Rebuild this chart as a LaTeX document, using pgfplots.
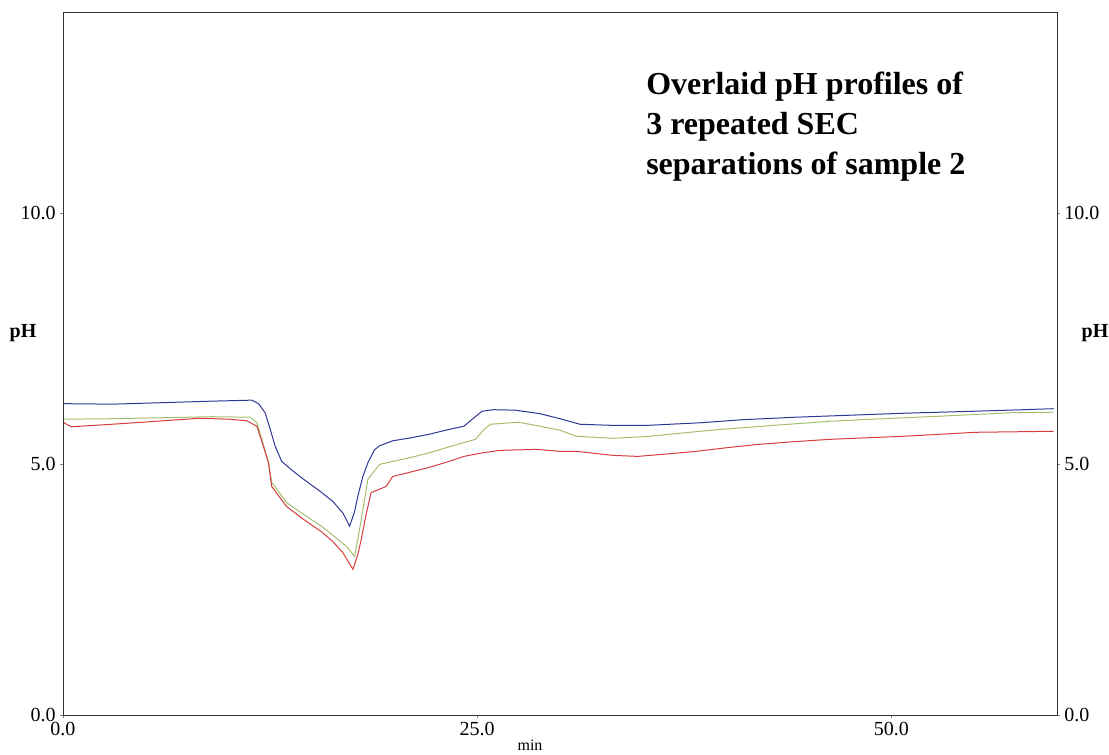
\documentclass[border=0pt]{standalone}
\usepackage{fontspec}
\setmainfont{Liberation Serif}
\usepackage{pgfplots}
\pgfplotsset{compat=1.18}
\definecolor{phblue}{RGB}{45,55,150}
\definecolor{phgreen}{RGB}{165,190,110}
\definecolor{phred}{RGB}{215,60,60}
\begin{document}
\begin{tikzpicture}[x=1pt,y=1pt]
\path[use as bounding box] (0,0) rectangle (831.75,566.25);
\pgfplotsset{
  phaxis/.style={
    at={(47.25pt,30pt)}, anchor=south west,
    scale only axis, width=745.5pt, height=527.25pt,
    xmin=0, xmax=60, ymin=0, ymax=14,
    xtick={0,25,50}, ytick={0,5,10},
    tick align=outside, major tick length=2pt,
    tick style={gray, thin},
    axis line style={black!80, line width=0.7pt},
    ticklabel style={font=\fontsize{15}{15}\selectfont},
    /pgf/number format/assume math mode=true,
    /pgf/number format/.cd, fixed, fixed zerofill, precision=1,
  }
}
\begin{axis}[phaxis, xtick pos=lower, ytick pos=left]
\addplot[phgreen, line width=0.75pt] coordinates {
(0,5.89) (3,5.90) (6,5.92) (9,5.94) (11.3,5.93) (11.7,5.82) (12.0,5.50) (12.4,5.03) (12.6,4.63) (13.5,4.23) (14.5,4.00) (15.6,3.76) (16.4,3.55) (17.1,3.36) (17.6,3.16) (17.8,3.50) (18.0,3.89) (18.4,4.69) (19.1,4.99) (19.9,5.05) (21,5.13) (22.1,5.22) (23.5,5.36) (24.9,5.49) (25.4,5.68) (25.8,5.79) (27.5,5.83) (28.8,5.75) (30,5.67) (31,5.55) (33.2,5.51) (35.4,5.55) (37.5,5.62) (39.8,5.69) (43,5.77) (46.3,5.85) (49.5,5.90) (52.9,5.95) (57.3,6.02) (59.8,6.03)
};
\addplot[phred, line width=0.75pt] coordinates {
(0,5.83) (0.5,5.74) (2.5,5.78) (4.8,5.83) (6.5,5.87) (8.3,5.91) (10,5.89) (11.1,5.86) (11.7,5.75) (12.0,5.45) (12.4,5.03) (12.6,4.55) (13.5,4.15) (14.5,3.90) (15.6,3.65) (16.3,3.45) (16.9,3.23) (17.5,2.90) (17.8,3.20) (18.0,3.49) (18.3,4.00) (18.6,4.43) (19.5,4.55) (19.9,4.75) (21,4.84) (22.1,4.93) (23.2,5.04) (24.2,5.15) (25.3,5.22) (26.4,5.27) (28.6,5.29) (30,5.25) (31,5.25) (33.2,5.17) (34.7,5.15) (36.5,5.20) (38.2,5.25) (40,5.32) (42,5.39) (44,5.44) (46.3,5.49) (50.7,5.55) (55.1,5.63) (59.8,5.65)
};
\addplot[phblue, line width=0.75pt] coordinates {
(0,6.20) (3,6.19) (6,6.22) (9,6.25) (11.4,6.27) (11.8,6.20) (12.2,6.02) (12.5,5.70) (12.8,5.36) (13.2,5.05) (13.8,4.88) (14.5,4.70) (15.5,4.46) (16.3,4.25) (16.9,4.02) (17.3,3.76) (17.6,4.05) (17.8,4.36) (18.1,4.75) (18.4,5.02) (18.8,5.28) (19.1,5.36) (19.9,5.46) (21,5.52) (22.1,5.59) (23.2,5.68) (24.2,5.75) (24.7,5.89) (25.3,6.05) (26,6.08) (27.3,6.07) (28.8,6.00) (30.0,5.90) (31.2,5.79) (33,5.77) (35.4,5.77) (38.5,5.82) (41,5.88) (44.2,5.93) (47.5,5.97) (50.8,6.01) (55.1,6.05) (58,6.08) (59.8,6.10)
};
\end{axis}
\begin{axis}[phaxis, xtick=\empty, yticklabel pos=right, ytick pos=right]
\end{axis}
\node[anchor=north west, align=left, inner sep=0pt,
  font=\fontsize{24}{30}\selectfont\bfseries] at (484.5,512.5)
  {Overlaid pH profiles of\\3 repeated SEC\\separations of sample 2};
\node[font=\fontsize{15}{15}\selectfont\bfseries] at (17.25,316.5) {pH};
\node[font=\fontsize{15}{15}\selectfont\bfseries] at (821.25,316.5) {pH};
\node[font=\fontsize{12}{12}\selectfont] at (397.5,7) {min};
\end{tikzpicture}
\end{document}
